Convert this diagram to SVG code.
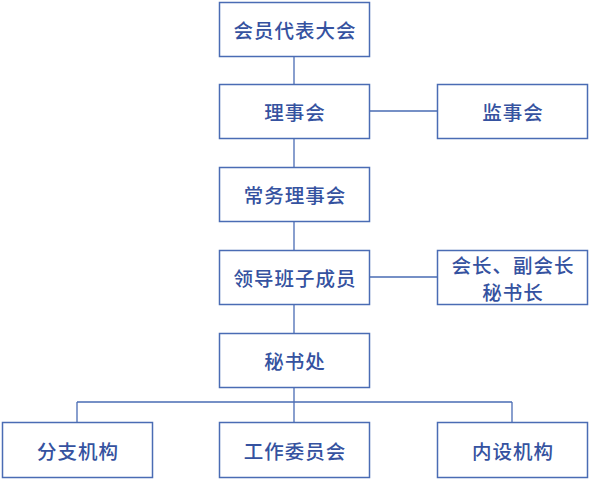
<svg xmlns="http://www.w3.org/2000/svg" width="590" height="480" viewBox="0 0 590 480">
<style>
.box{fill:#fff;stroke:#4a6cb4;stroke-width:1.5}
.t{font-family:"Noto Sans CJK SC",sans-serif;font-size:19.5px;font-weight:500;letter-spacing:1px;fill:#3552a0;text-anchor:middle;dominant-baseline:central}
.c{stroke:#4a6cb4;stroke-width:1.3;fill:none}
</style>
<rect width="590" height="480" fill="#fff"/>
<g id="connectors">
<path class="c" d="M294 56V84M369 111H437M294 138V167M294 221V250M369 277H437M294 304V333M294 387V422M77 402H512M77 402V422M512 402V422"/>
</g>
<g id="n1"><rect class="box" x="219.5" y="2.5" width="150" height="54"/><text class="t" x="295" y="29.5">会员代表大会</text></g>
<g id="n2"><rect class="box" x="219.5" y="84.5" width="150" height="54"/><text class="t" x="295" y="111.5">理事会</text></g>
<g id="n3"><rect class="box" x="437.5" y="84.5" width="150" height="54"/><text class="t" x="513" y="111.5">监事会</text></g>
<g id="n4"><rect class="box" x="219.5" y="167.5" width="150" height="54"/><text class="t" x="295" y="194.5">常务理事会</text></g>
<g id="n5"><rect class="box" x="219.5" y="250.5" width="150" height="54"/><text class="t" x="295" y="277.5">领导班子成员</text></g>
<g id="n6"><rect class="box" x="437.5" y="250.5" width="150" height="54"/><text class="t" x="513" y="264">会长、副会长</text><text class="t" x="513" y="291">秘书长</text></g>
<g id="n7"><rect class="box" x="219.5" y="333.5" width="150" height="54"/><text class="t" x="295" y="360.5">秘书处</text></g>
<g id="n8"><rect class="box" x="2.5" y="422.5" width="150" height="55"/><text class="t" x="78" y="450">分支机构</text></g>
<g id="n9"><rect class="box" x="219.5" y="422.5" width="150" height="55"/><text class="t" x="295" y="450">工作委员会</text></g>
<g id="n10"><rect class="box" x="437.5" y="422.5" width="150" height="55"/><text class="t" x="513" y="450">内设机构</text></g>
</svg>
